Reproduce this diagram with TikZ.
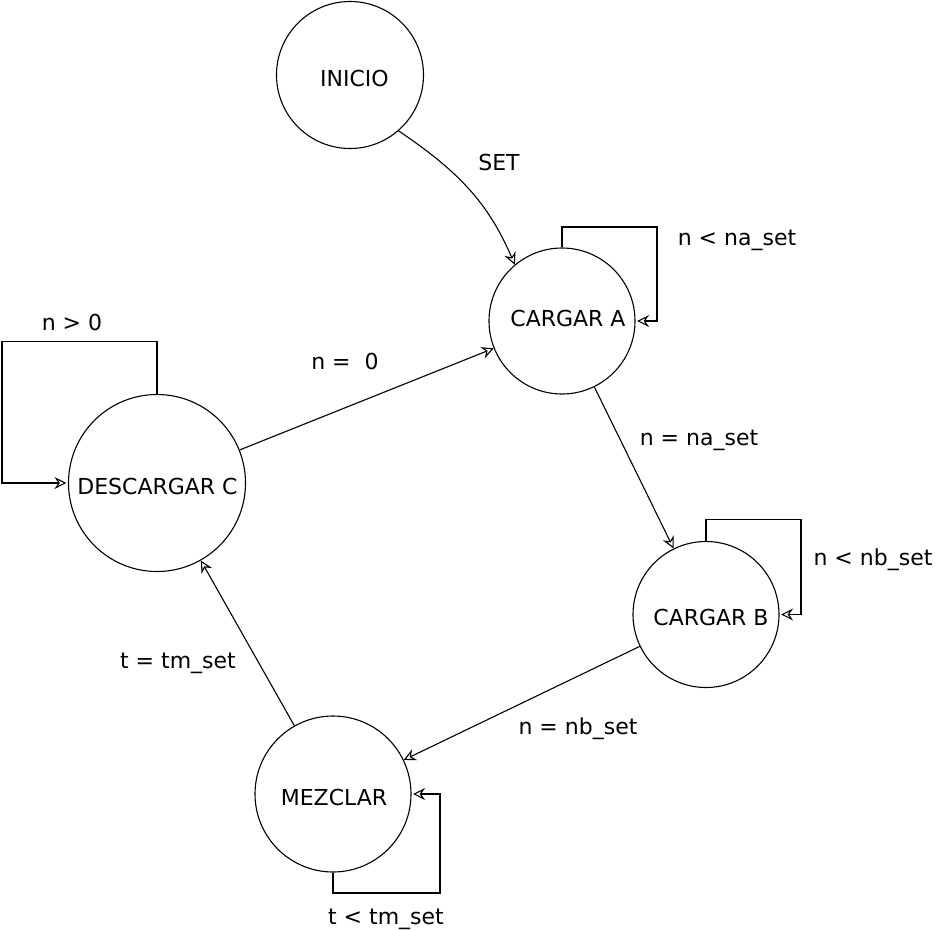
\documentclass[tikz,border=0pt]{standalone}
\usepackage{fontspec}
\setmainfont{DejaVu Sans}
\usetikzlibrary{arrows.meta}
\begin{document}
\begin{tikzpicture}[x=1pt,y=1pt,
  txt/.style={font=\fontsize{22}{26}\selectfont, inner sep=0pt},
  state/.style={circle, draw, line width=1.1pt, inner sep=0pt, fill=white},
  arr/.style={line width=1.1pt, -{Stealth[open,length=12pt,width=12pt,inset=4pt,line width=1.1pt]}},
]
\useasboundingbox (0,0) rectangle (935,-930);

% states
\node[state, minimum size=147pt, label={[txt,xshift=4.5pt,yshift=-3pt]center:INICIO}] (inicio) at (350,-75) {};
\node[state, minimum size=146pt, label={[txt,xshift=6pt,yshift=2.5pt]center:CARGAR A}] (ca) at (562,-321) {};
\node[state, minimum size=146pt, label={[txt,xshift=5pt,yshift=-2.5pt]center:CARGAR B}] (cb) at (706,-614.5) {};
\node[state, minimum size=156pt, label={[txt,xshift=1pt,yshift=-3pt]center:MEZCLAR}] (mez) at (333,-794) {};
\node[state, minimum size=177pt, label={[txt,xshift=0.5pt,yshift=-3pt]center:DESCARGAR C}] (dc) at (157,-483) {};

% corners of the self loops
\coordinate (la) at (657,-227);
\coordinate (lb) at (801,-519.5);
\coordinate (lm) at (440,-893);
\coordinate (lc) at (2,-341.7);

% transitions
\draw[arr] (inicio.-49) to[out=-34,in=113] (ca.130);
\draw[arr] (ca) -- (cb);
\draw[arr] (cb) -- (mez);
\draw[arr] (mez) -- (dc);
\draw[arr] (dc) -- (ca);

% self loops
\draw[arr, shorten >=1.5pt] (ca.north) |- (la) |- (ca.east);
\draw[arr, shorten >=1.5pt] (cb.north) |- (lb) |- (cb.east);
\draw[arr, shorten >=1.5pt] (mez.south) |- (lm) |- (mez.east);
\draw[arr, shorten >=1.5pt] (dc.north) |- (lc) |- (dc.west);

% transition labels
\node[txt] (tset) at (499,-162) {SET};
\node[txt] (tna) at (737,-240) {n < na\_set};
\node[txt] (tnaeq) at (699,-440) {n = na\_set};
\node[txt] (tnb) at (873,-560) {n < nb\_set};
\node[txt] (tnbeq) at (578,-729) {n = nb\_set};
\node[txt] (ttm) at (178,-663) {t = tm\_set};
\node[txt] (ttmlt) at (386,-919) {t < tm\_set};
\node[txt] (tgt) at (72,-322) {n > 0};
\node[txt] (tzero) at (345,-361) {n =\ \ 0};
\end{tikzpicture}
\end{document}
